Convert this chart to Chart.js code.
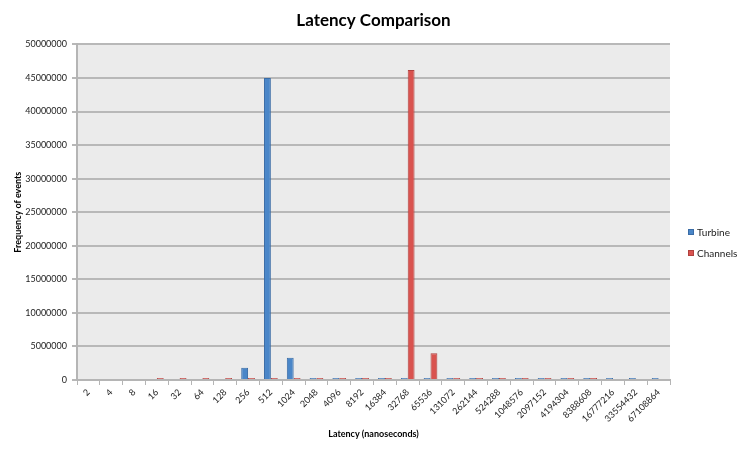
<!DOCTYPE html>
<html>
<head>
<meta charset="utf-8">
<script src="https://cdn.jsdelivr.net/npm/chart.js@4"></script>
<style>
  html, body { margin: 0; padding: 0; background: #fff; }
  #wrap { width: 747px; height: 453px; }
</style>
</head>
<body>
<div id="wrap"><canvas id="myChart" width="747" height="453"></canvas></div>
<script>
// latency buckets (ns)
const latencies = ['2', '4', '8', '16', '32', '64', '128', '256', '512', '1024', '2048', '4096', '8192',
  '16384', '32768', '65536', '131072', '262144', '524288', '1048576', '2097152', '4194304',
  '8388608', '16777216', '33554432', '67108864'];

const turbine = [0, 0, 0, 0, 0, 0, 0, 1830000, 45000000, 3300000, 300000, 300000, 300000,
  300000, 300000, 300000, 300000, 300000, 300000, 300000, 300000, 300000,
  300000, 300000, 300000, 300000];

const channels = [0, 0, 0, 300000, 300000, 300000, 300000, 300000, 300000, 300000, 300000, 300000, 300000,
  300000, 46200000, 3970000, 300000, 300000, 300000, 300000, 300000, 300000,
  300000, 0, 0, 0];

const yTicks = [0, 5000000, 10000000, 15000000, 20000000, 25000000, 30000000, 35000000, 40000000, 45000000, 50000000];

const FONT = 'Lato, "Open Sans", sans-serif';

// grey plot background
const plotBg = {
  id: 'plotBg',
  beforeDraw(chart) {
    const { ctx, chartArea: a } = chart;
    ctx.save();
    ctx.fillStyle = '#ebebeb';
    ctx.fillRect(a.left, a.top, a.right - a.left, a.bottom - a.top);
    ctx.restore();
  }
};

// excel-style legend to the right
const sideLegend = {
  id: 'sideLegend',
  afterDraw(chart) {
    const ctx = chart.ctx;
    ctx.save();
    ctx.font = '10px ' + FONT;
    ctx.textBaseline = 'middle';
    chart.data.datasets.forEach((ds, i) => {
      const y = 233 + i * 21;
      ctx.fillStyle = ds.backgroundColor;
      ctx.fillRect(688, y - 4, 6, 6);
      ctx.strokeStyle = ds.borderColor;
      ctx.lineWidth = 1;
      ctx.strokeRect(688.5, y - 3.5, 5, 5);
      ctx.fillStyle = '#222';
      ctx.fillText(ds.label, 697, y);
    });
    ctx.restore();
  }
};

new Chart(document.getElementById('myChart'), {
  type: 'bar',
  data: {
    labels: latencies,
    datasets: [{
      label: 'Turbine',
      data: turbine,
      backgroundColor: '#4a86c8',
      borderColor: '#3a6ca6',
      borderWidth: 1,
      categoryPercentage: 0.6,
      barPercentage: 1.0
    }, {
      label: 'Channels',
      data: channels,
      backgroundColor: '#d9534f',
      borderColor: '#b0413e',
      borderWidth: 1,
      categoryPercentage: 0.6,
      barPercentage: 1.0
    }]
  },
  options: {
    responsive: false,
    animation: false,
    layout: { padding: 0 },
    plugins: {
      legend: { display: false },
      tooltip: { enabled: false },
      title: {
        display: true,
        text: 'Latency Comparison',
        color: '#000',
        font: { family: FONT, size: 17, weight: 'bold' },
        padding: { top: 10, bottom: 14 }
      }
    },
    scales: {
      x: {
        grid: {
          display: true,
          drawOnChartArea: false,
          offset: true,
          color: '#b5b5b5',
          tickLength: 5,
          lineWidth: 1
        },
        border: { color: '#b5b5b5', width: 2 },
        ticks: {
          color: '#222',
          font: { family: FONT, size: 9 },
          minRotation: 45,
          maxRotation: 45,
          autoSkip: false,
          padding: 2
        },
        title: {
          display: true,
          text: 'Latency (nanoseconds)',
          color: '#000',
          font: { family: FONT, size: 9, weight: 'bold' },
          padding: { top: 0, bottom: 14 }
        },
        afterFit(scale) { scale.height = 73; }
      },
      y: {
        min: 0,
        max: 50000000,
        afterBuildTicks(scale) { scale.ticks = yTicks.map(v => ({ value: v })); },
        grid: {
          color: '#b8b8b8',
          lineWidth: 2,
          tickLength: 5
        },
        border: { color: '#b5b5b5', width: 2 },
        ticks: {
          color: '#222',
          font: { family: FONT, size: 9 },
          padding: 5,
          callback: v => String(v)
        },
        title: {
          display: true,
          text: 'Frequency of events',
          color: '#000',
          font: { family: FONT, size: 9, weight: 'bold' },
          padding: { top: 13, bottom: 2 }
        },
        afterFit(scale) { scale.width = 77; }
      },
      // empty axis that only reserves room for the legend
      side: {
        type: 'linear',
        position: 'right',
        display: true,
        grid: { display: false, drawOnChartArea: false },
        border: { display: false },
        ticks: { display: false },
        afterFit(scale) { scale.width = 77; }
      }
    }
  },
  plugins: [plotBg, sideLegend]
});
</script>
</body>
</html>
